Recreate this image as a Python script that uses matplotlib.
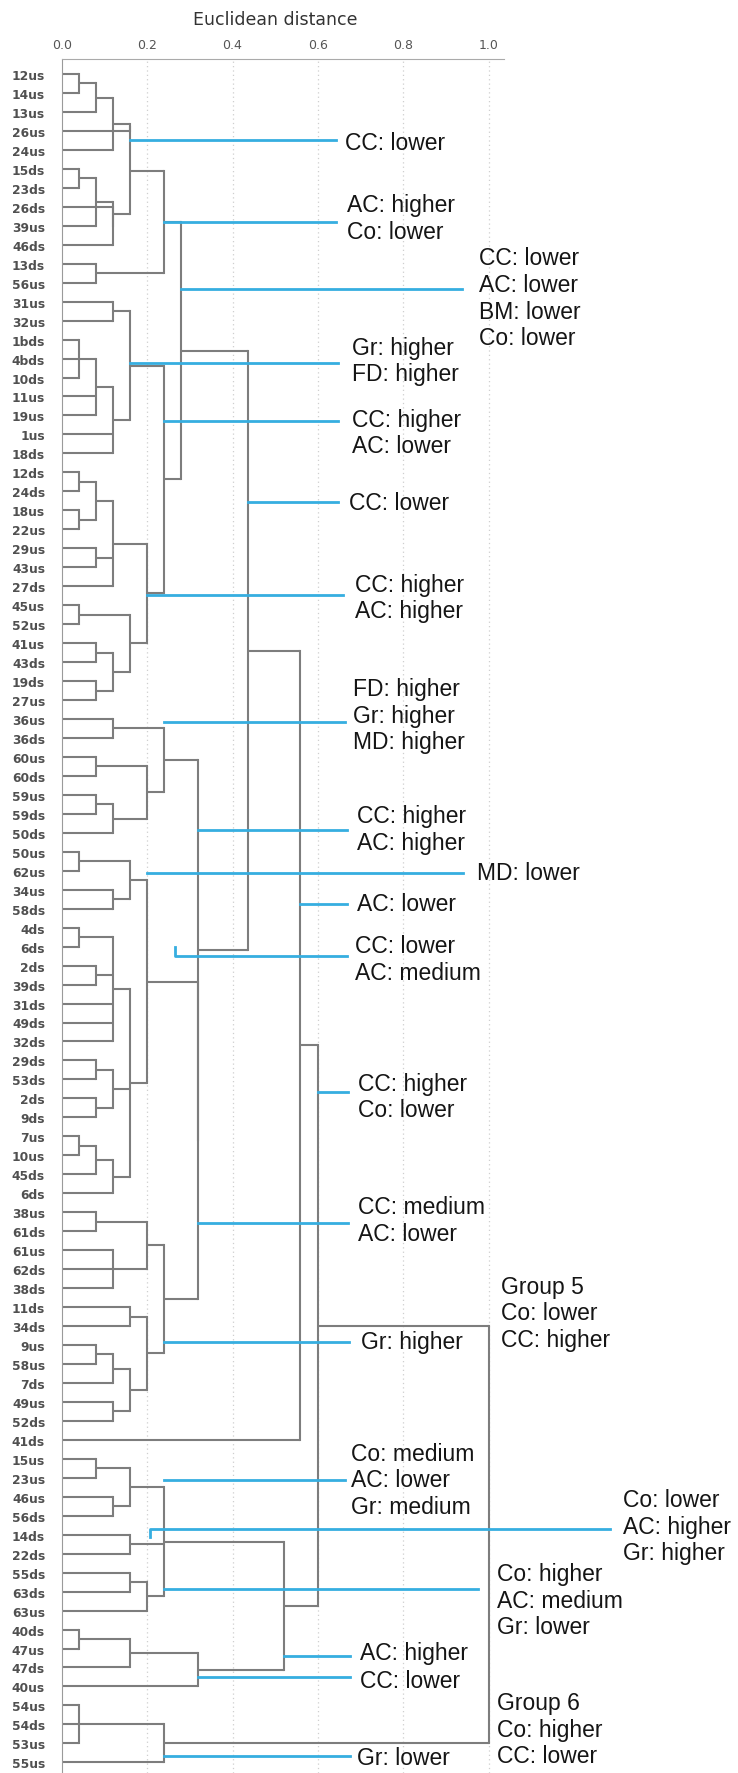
"""Dendrogram of sampling sites (Euclidean distance) with annotated clusters."""
import matplotlib
matplotlib.use('Agg')
import matplotlib.pyplot as plt

# leaf labels, top to bottom
leaves = ['12us', '14us', '13us', '26us', '24us', '15ds', '23ds', '26ds', '39us', '46ds',
          '13ds', '56us', '31us', '32us', '1bds', '4bds', '10ds', '11us', '19us', '1us',
          '18ds', '12ds', '24ds', '18us', '22us', '29us', '43us', '27ds', '45us', '52us',
          '41us', '43ds', '19ds', '27us', '36us', '36ds', '60us', '60ds', '59us', '59ds',
          '50ds', '50us', '62us', '34us', '58ds', '4ds', '6ds', '2ds', '39ds', '31ds',
          '49ds', '32ds', '29ds', '53ds', '2ds', '9ds', '7us', '10us', '45ds', '6ds',
          '38us', '61ds', '61us', '62ds', '38ds', '11ds', '34ds', '9us', '58us', '7ds',
          '49us', '52ds', '41ds', '15us', '23us', '46us', '56ds', '14ds', '22ds', '55ds',
          '63ds', '63us', '40ds', '47us', '47ds', '40us', '54us', '54ds', '53us', '55us']

# merge tree: (distance, children); ints are leaf positions
upper_e = (0.24, [(0.16, [(0.16, [(0.12, [(0.08, [(0.04, [0, 1]), 2]), 4]), 3]),
                          (0.12, [(0.08, [(0.04, [5, 6]), 8]), (0.12, [7, 9])])]),
                  (0.08, [10, 11])])
upper_f = (0.16, [(0.12, [12, 13]),
                  (0.12, [(0.08, [(0.04, [14, 15, 16]), 17, 18]), 19, 20])])
upper_g = (0.20, [(0.12, [(0.08, [(0.04, [21, 22]), (0.04, [23, 24])]), (0.08, [25, 26]), 27]),
                  (0.16, [(0.04, [28, 29]), (0.12, [(0.08, [30, 31]), (0.08, [32, 33])])])])
upper = (0.28, [upper_e, (0.24, [upper_f, upper_g])])

mid_i = (0.24, [(0.12, [34, 35]), (0.20, [(0.08, [36, 37]), (0.12, [(0.08, [38, 39]), 40])])])
mid_o = (0.20, [(0.16, [(0.04, [41, 42]), (0.12, [43, 44])]),
                (0.16, [(0.12, [(0.04, [45, 46]), (0.08, [47, 48]), 49, 50, 51]),
                        (0.12, [(0.08, [52, 53]), (0.08, [54, 55])]),
                        (0.12, [(0.08, [(0.04, [56, 57]), 58]), 59])])])
mid_q = (0.24, [(0.20, [(0.08, [60, 61]), (0.12, [62, 63, 64])]),
                (0.20, [(0.16, [65, 66]),
                        (0.16, [(0.12, [(0.08, [67, 68]), 69]), (0.12, [70, 71])])])])
middle = (0.32, [mid_i, (0.32, [mid_o, mid_q])])

lower = (0.52, [(0.24, [(0.16, [(0.08, [73, 74]), (0.12, [75, 76])]),
                        (0.16, [77, 78]),
                        (0.20, [(0.16, [79, 80]), 81])]),
                (0.32, [(0.16, [(0.04, [82, 83]), 84]), 85])])
group6 = (0.24, [(0.04, [(0.04, [86, 88]), 87]), 89])

root = (1.0, [(0.60, [(0.557, [(0.437, [upper, middle]), 72]), lower]), group6])

# annotation texts
note_texts = ['CC: lower', 'AC: higher\nCo: lower',
              'CC: lower\nAC: lower\nBM: lower\nCo: lower',
              'Gr: higher\nFD: higher', 'CC: higher\nAC: lower', 'CC: lower',
              'CC: higher\nAC: higher', 'FD: higher\nGr: higher\nMD: higher',
              'CC: higher\nAC: higher', 'MD: lower', 'AC: lower', 'CC: lower\nAC: medium',
              'CC: higher\nCo: lower', 'CC: medium\nAC: lower', 'Gr: higher',
              'Group 5\nCo: lower\nCC: higher', 'Co: medium\nAC: lower\nGr: medium',
              'Co: lower\nAC: higher\nGr: higher', 'Co: higher\nAC: medium\nGr: lower',
              'AC: higher', 'CC: lower', 'Group 6\nCo: higher\nCC: lower', 'Gr: lower']
# layout: (line start, branch y or None, line y, line end, text x, text y)
note_pos = [(0.16, None, 3.48, 0.642, 0.664, 3.6),
            (0.24, None, 7.80, 0.642, 0.668, 7.6),
            (0.28, None, 11.33, 0.937, 0.977, 11.8),
            (0.16, None, 15.23, 0.647, 0.679, 15.1),
            (0.24, None, 18.29, 0.647, 0.679, 18.9),
            (0.437, None, 22.56, 0.647, 0.673, 22.6),
            (0.20, None, 27.45, 0.659, 0.687, 27.6),
            (0.24, None, 34.16, 0.664, 0.683, 33.8),
            (0.32, None, 39.85, 0.667, 0.691, 39.8),
            (0.20, None, 42.12, 0.94, 0.972, 42.1),
            (0.557, None, 43.75, 0.667, 0.691, 43.75),
            (0.265, 46.0, 46.5, 0.667, 0.687, 46.65),
            (0.60, None, 53.66, 0.671, 0.694, 53.9),
            (0.32, None, 60.57, 0.671, 0.694, 60.4),
            (0.24, None, 66.84, 0.673, 0.70, 66.84),
            (None, None, None, None, 1.028, 65.3),
            (0.24, None, 74.12, 0.664, 0.677, 74.1),
            (0.207, 77.1, 76.7, 1.284, 1.315, 76.55),
            (0.24, None, 79.86, 0.975, 1.019, 80.45),
            (0.52, None, 83.39, 0.675, 0.699, 83.2),
            (0.32, None, 84.50, 0.675, 0.699, 84.7),
            (None, None, None, None, 1.019, 87.25),
            (0.24, None, 88.66, 0.675, 0.691, 88.72)]

GRAY = '#7d7d7d'
BLUE = '#36aee0'

W, H = 738, 1774
x0_px, top_px, unit_px, row0_px, row_px = 61.7, 60, 427.0, 75.0, 18.97

fig = plt.figure(figsize=(W / 100, H / 100), dpi=100)
ax = fig.add_axes([x0_px / W, 0, (W - x0_px) / W, (H - top_px) / H])
ax.set_xlim(0, (W - x0_px) / unit_px)
ax.set_ylim((H - row0_px) / row_px, (top_px - row0_px) / row_px)


def draw(node):
    if isinstance(node, int):
        return float(node), 0.0
    h, kids = node
    pts = [draw(k) for k in kids]
    for y, hk in pts:
        ax.plot([hk, h], [y, y], color=GRAY, lw=1.5, zorder=2, solid_capstyle='butt')
    ys = [p[0] for p in pts]
    ax.plot([h, h], [min(ys), max(ys)], color=GRAY, lw=1.5, zorder=2,
            solid_capstyle='projecting')
    return (min(ys) + max(ys)) / 2, h


y_root, h_root = draw(root)

for txt, (xs, yb, yl, xe, tx, ty) in zip(note_texts, note_pos):
    if xs is not None:
        if yb is not None:
            ax.plot([xs, xs, xe], [yb, yl, yl], color=BLUE, lw=2, zorder=3)
        else:
            ax.plot([xs, xe], [yl, yl], color=BLUE, lw=2, zorder=3)
    ax.text(tx, ty, txt, ha='left', va='center', fontsize=16.5,
            family='Liberation Sans', color='#151515', linespacing=1.2)

for gx in [0.2, 0.4, 0.6, 0.8, 1.0]:
    ax.axvline(gx, color='#cfcfcf', lw=0.9, ls=(0, (1, 2.5)), zorder=0)

ax.set_yticks(range(len(leaves)))
ax.set_yticklabels(leaves, fontsize=8.8, fontweight='bold', color='#505050')
ax.tick_params(axis='y', length=0, pad=12)

ax.xaxis.tick_top()
ax.set_xticks([0, 0.2, 0.4, 0.6, 0.8, 1.0])
ax.set_xticklabels(['0.0', '0.2', '0.4', '0.6', '0.8', '1.0'], fontsize=9, color='#555555')
ax.tick_params(axis='x', length=0, pad=6)

for s in ['right', 'bottom']:
    ax.spines[s].set_visible(False)
ax.spines['left'].set_color('#9a9a9a')
ax.spines['top'].set_color('#aaaaaa')
ax.spines['top'].set_bounds(0, 1.035)

fig.text(275 / W, 1 - 20 / H, 'Euclidean distance', ha='center', va='center',
         fontsize=12.5, color='#333333')

fig.savefig('out.png', dpi=100)
